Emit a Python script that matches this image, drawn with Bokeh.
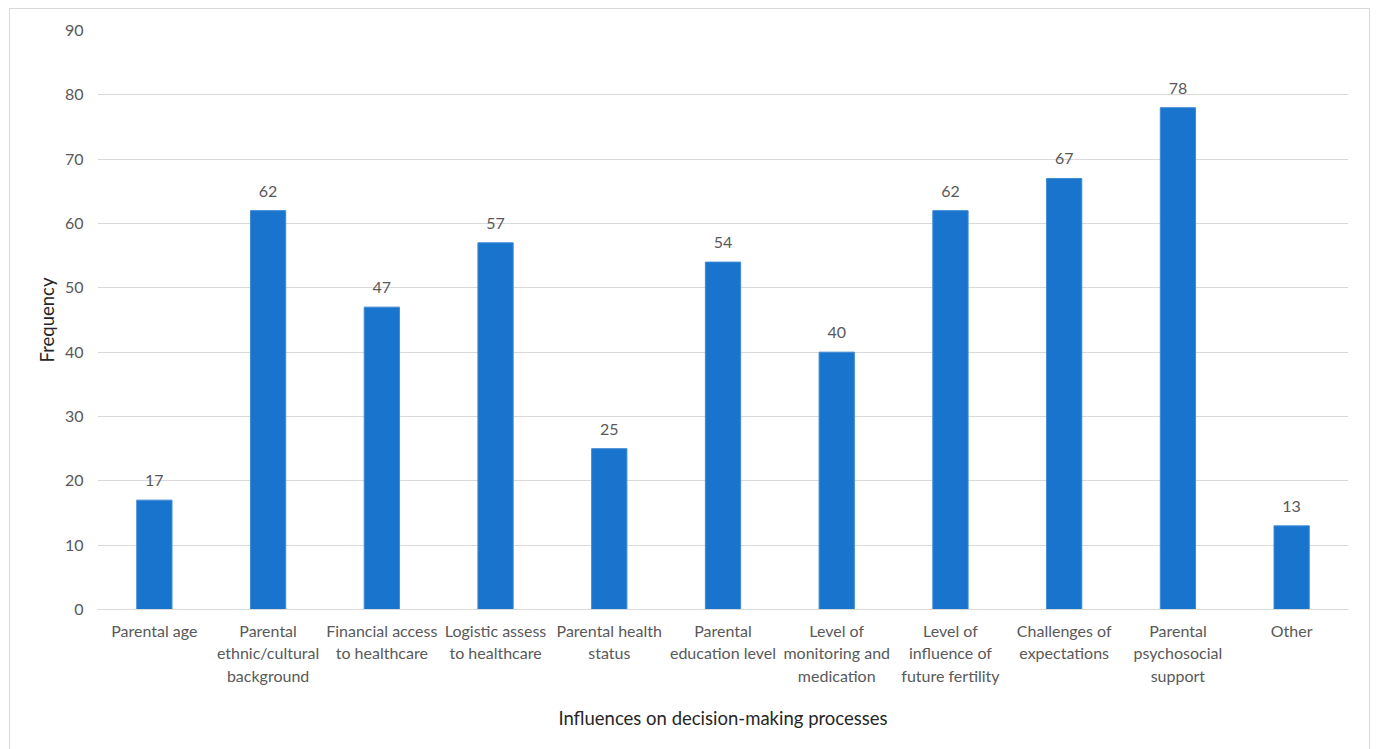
from bokeh.plotting import figure
from bokeh.models import ColumnDataSource, SingleIntervalTicker, LabelSet
from bokeh.core.properties import value
from bokeh.embed import file_html
from bokeh.resources import INLINE

categories = [
    "Parental age",
    "Parental\nethnic/cultural\nbackground",
    "Financial access\nto healthcare",
    "Logistic assess\nto healthcare",
    "Parental health\nstatus",
    "Parental\neducation level",
    "Level of\nmonitoring and\nmedication",
    "Level of\ninfluence of\nfuture fertility",
    "Challenges of\nexpectations",
    "Parental\npsychosocial\nsupport",
    "Other",
]
frequency = [17, 62, 47, 57, 25, 54, 40, 62, 67, 78, 13]

FONT = "Lato"
BAR = "#1874CD"
LABEL_GRAY = "#595959"

source = ColumnDataSource(data=dict(
    cat=categories,
    freq=frequency,
    lbl=[str(v) for v in frequency],
))

p = figure(
    x_range=categories,
    y_range=(0, 90),
    frame_width=1251,
    frame_height=579,
    output_backend="svg",
    toolbar_location=None,
    min_border_left=87,
    min_border_right=21,
    min_border_top=21,
    min_border_bottom=150,
    margin=(8, 0, 0, 9),
    styles={"border": "1px solid #d9d9d9"},
)

p.vbar(x="cat", top="freq", width=0.31, source=source,
       fill_color=BAR, line_color="#3f8ad6", line_width=1)

# value labels above each bar
p.add_layout(LabelSet(
    x="cat", y="freq", text="lbl", source=source,
    y_offset=14, text_align="center", text_baseline="bottom",
    text_font=value(FONT), text_font_size="16px", text_color=LABEL_GRAY))

p.outline_line_color = None
p.xgrid.grid_line_color = None
p.ygrid.grid_line_color = "#d9d9d9"
p.ygrid.grid_line_width = 1

p.yaxis.ticker = SingleIntervalTicker(interval=10)
p.yaxis.axis_line_color = None
p.yaxis.major_tick_line_color = None
p.yaxis.minor_tick_line_color = None
p.yaxis.major_label_text_font = FONT
p.yaxis.major_label_text_font_size = "16px"
p.yaxis.major_label_text_color = LABEL_GRAY
p.yaxis.major_label_standoff = 8
p.yaxis.axis_label = "Frequency"
p.yaxis.axis_label_text_font = FONT
p.yaxis.axis_label_text_font_size = "18.5px"
p.yaxis.axis_label_text_font_style = "normal"
p.yaxis.axis_label_text_color = "#262626"
p.yaxis.axis_label_standoff = 4

p.xaxis.axis_line_color = "#d9d9d9"
p.xaxis.major_tick_line_color = None
p.xaxis.minor_tick_line_color = None
p.xaxis.major_label_text_font = FONT
p.xaxis.major_label_text_font_size = "16px"
p.xaxis.major_label_text_color = LABEL_GRAY
p.xaxis.major_label_standoff = 5
p.xaxis.axis_label = "Influences on decision-making processes"
p.xaxis.axis_label_text_font = FONT
p.xaxis.axis_label_text_font_size = "18.5px"
p.xaxis.axis_label_text_font_style = "normal"
p.xaxis.axis_label_text_color = "#262626"
p.xaxis.axis_label_standoff = 19

p.x_range.range_padding = 0

open("out.html", "w").write(file_html(p, INLINE))
